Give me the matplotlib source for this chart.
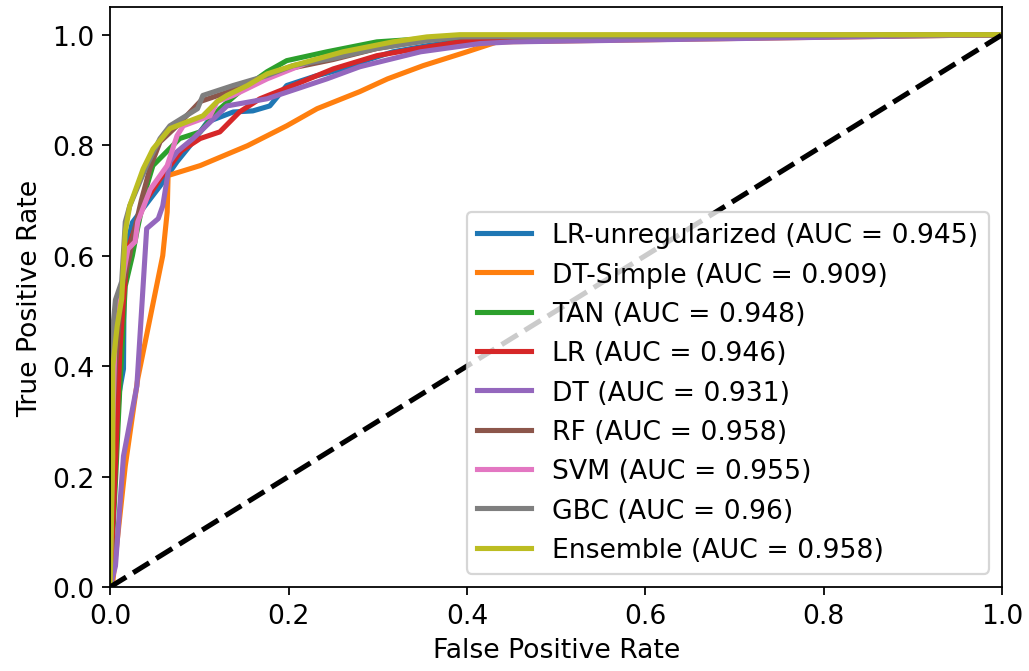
import numpy as np
import matplotlib.pyplot as plt

plt.rcParams['font.size'] = 12

# ROC points (fpr, tpr)
lr_unreg_fpr = [0, 0.005, 0.010, 0.015, 0.016, 0.025, 0.039, 0.056, 0.075, 0.090, 0.109, 0.138, 0.160, 0.179, 0.198, 0.230, 0.261, 0.290, 0.317, 0.355, 0.40, 0.50, 1.0]
lr_unreg_tpr = [0, 0.20, 0.35, 0.395, 0.60, 0.66, 0.69, 0.726, 0.77, 0.80, 0.842, 0.860, 0.862, 0.871, 0.908, 0.925, 0.938, 0.955, 0.969, 0.980, 0.990, 0.995, 1.0]

dt_simple_fpr = [0, 0.003, 0.017, 0.031, 0.059, 0.064, 0.065, 0.101, 0.154, 0.198, 0.232, 0.280, 0.311, 0.351, 0.400, 0.434, 1.0]
dt_simple_tpr = [0, 0.009, 0.219, 0.377, 0.600, 0.679, 0.745, 0.763, 0.799, 0.835, 0.866, 0.897, 0.920, 0.944, 0.969, 0.987, 1.0]

tan_fpr = [0, 0.006, 0.011, 0.017, 0.025, 0.030, 0.040, 0.048, 0.078, 0.101, 0.123, 0.149, 0.176, 0.198, 0.243, 0.299, 0.355, 0.45, 1.0]
tan_tpr = [0, 0.19, 0.364, 0.545, 0.60, 0.643, 0.72, 0.763, 0.812, 0.824, 0.866, 0.902, 0.933, 0.953, 0.969, 0.987, 0.993, 0.995, 1.0]

lr_fpr = [0, 0.006, 0.011, 0.015, 0.020, 0.030, 0.040, 0.056, 0.080, 0.101, 0.123, 0.145, 0.168, 0.205, 0.250, 0.299, 0.345, 0.392, 0.45, 1.0]
lr_tpr = [0, 0.22, 0.43, 0.52, 0.612, 0.66, 0.70, 0.739, 0.79, 0.812, 0.824, 0.860, 0.884, 0.908, 0.938, 0.962, 0.975, 0.987, 0.993, 1.0]

dt_fpr = [0, 0.006, 0.015, 0.030, 0.041, 0.054, 0.059, 0.067, 0.075, 0.093, 0.131, 0.176, 0.243, 0.280, 0.348, 0.415, 0.452, 1.0]
dt_tpr = [0, 0.038, 0.237, 0.364, 0.649, 0.667, 0.690, 0.770, 0.788, 0.812, 0.871, 0.884, 0.920, 0.942, 0.969, 0.984, 0.987, 1.0]

rf_fpr = [0, 0.002, 0.006, 0.013, 0.022, 0.025, 0.035, 0.045, 0.056, 0.075, 0.101, 0.130, 0.168, 0.205, 0.250, 0.299, 0.355, 0.40, 1.0]
rf_tpr = [0, 0.28, 0.40, 0.54, 0.60, 0.63, 0.70, 0.76, 0.806, 0.835, 0.879, 0.895, 0.920, 0.940, 0.955, 0.975, 0.990, 0.998, 1.0]

svm_fpr = [0, 0.003, 0.006, 0.020, 0.028, 0.031, 0.045, 0.064, 0.075, 0.082, 0.112, 0.120, 0.138, 0.176, 0.224, 0.299, 0.355, 0.40, 1.0]
svm_tpr = [0, 0.30, 0.485, 0.612, 0.625, 0.661, 0.72, 0.763, 0.817, 0.835, 0.853, 0.879, 0.890, 0.920, 0.951, 0.980, 0.993, 0.998, 1.0]

gbc_fpr = [0, 0.002, 0.006, 0.013, 0.017, 0.022, 0.041, 0.056, 0.067, 0.098, 0.104, 0.138, 0.176, 0.205, 0.250, 0.299, 0.355, 0.392, 1.0]
gbc_tpr = [0, 0.45, 0.52, 0.553, 0.661, 0.69, 0.763, 0.812, 0.835, 0.866, 0.890, 0.908, 0.926, 0.944, 0.957, 0.975, 0.989, 0.996, 1.0]

ens_fpr = [0, 0.003, 0.003, 0.008, 0.013, 0.017, 0.022, 0.037, 0.048, 0.067, 0.086, 0.104, 0.120, 0.131, 0.154, 0.176, 0.205, 0.261, 0.317, 0.355, 0.392, 1.0]
ens_tpr = [0, 0.237, 0.40, 0.473, 0.522, 0.643, 0.69, 0.757, 0.793, 0.830, 0.842, 0.853, 0.879, 0.890, 0.908, 0.929, 0.944, 0.969, 0.987, 0.996, 1.0, 1.0]

names = ['LR-unregularized', 'DT-Simple', 'TAN', 'LR', 'DT', 'RF', 'SVM', 'GBC', 'Ensemble']
aucs = ['0.945', '0.909', '0.948', '0.946', '0.931', '0.958', '0.955', '0.96', '0.958']
curves = [(lr_unreg_fpr, lr_unreg_tpr), (dt_simple_fpr, dt_simple_tpr), (tan_fpr, tan_tpr),
          (lr_fpr, lr_tpr), (dt_fpr, dt_tpr), (rf_fpr, rf_tpr), (svm_fpr, svm_tpr),
          (gbc_fpr, gbc_tpr), (ens_fpr, ens_tpr)]

fig = plt.figure(figsize=(10.29/1.6, 6.72/1.6), dpi=160)
ax = fig.add_axes([0.107, 0.125, 0.867, 0.863])

for name, auc, (fpr, tpr) in zip(names, aucs, curves):
    ax.plot(fpr, tpr, lw=2.3, label=f'{name} (AUC = {auc})')

ax.plot([0, 1], [0, 1], 'k--', lw=2.3)
ax.set_xlim(0, 1)
ax.set_ylim(0, 1.05)
ax.set_xlabel('False Positive Rate')
ax.set_ylabel('True Positive Rate')
ax.legend(loc='lower right')

fig.savefig('out.png', dpi=160)
